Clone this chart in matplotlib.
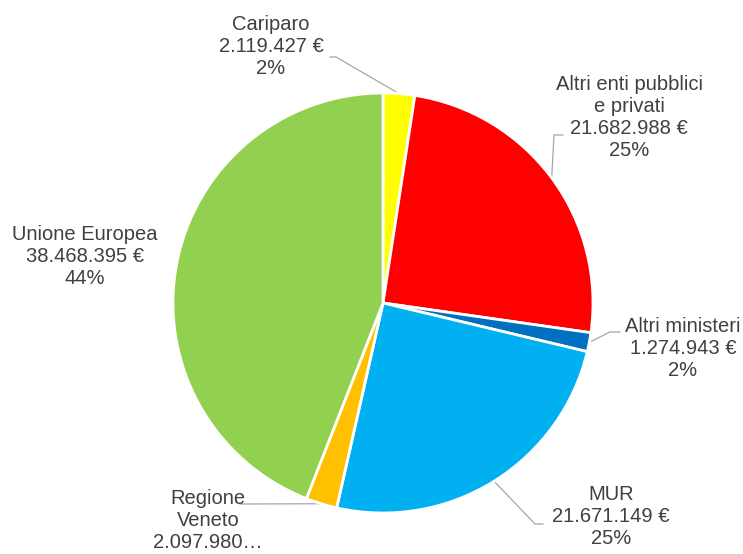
import numpy as np
import matplotlib.pyplot as plt

plt.rcParams['font.family'] = ['Liberation Sans', 'DejaVu Sans']

# slices, clockwise from 12 o'clock
names = ['Cariparo', 'Altri enti pubblici\ne privati', 'Altri ministeri',
         'MUR', 'Regione\nVeneto', 'Unione Europea']
amounts = [2119427, 21682988, 1274943, 21671149, 2097980, 38468395]
amount_labels = ['2.119.427 €', '21.682.988 €', '1.274.943 €',
                 '21.671.149 €', '2.097.980…', '38.468.395 €']
pct_labels = ['2%', '25%', '2%', '25%', '', '44%']
colors = ['#FFFF00', '#FF0000', '#0070C0', '#00B0F0', '#FFC000', '#92D050']

W, H = 743, 554
cx, cy, R = 383, H - 303, 210

# label block centres (pixels, y up) and leader line elbows/ends
label_pos = [(271, H - 47), (629, H - 118), (683, H - 349),
             (611, H - 516), (208, H - 521), (85, H - 256)]
leaders = [[(336, H - 57), (330, H - 57)],
           [(554, H - 135), (563, H - 135)],
           [(610, H - 332), (620, H - 332)],
           [(535, H - 524), (543, H - 524)],
           [(240, H - 504)],
           None]

fig = plt.figure(figsize=(W / 100, H / 100), dpi=100)
ax = fig.add_axes([0, 0, 1, 1])

wedges, _ = ax.pie(amounts, colors=colors, startangle=90, counterclock=False,
                   center=(cx, cy), radius=R,
                   wedgeprops=dict(edgecolor='white', linewidth=2))

for i, w in enumerate(wedges):
    lines = [names[i], amount_labels[i]]
    if pct_labels[i]:
        lines.append(pct_labels[i])
    ax.text(label_pos[i][0], label_pos[i][1], '\n'.join(lines),
            ha='center', va='center', multialignment='center',
            fontsize=14.5, color='#404040', linespacing=1.2)
    if leaders[i] is not None:
        mid = np.deg2rad((w.theta1 + w.theta2) / 2)
        start = (cx + R * np.cos(mid), cy + R * np.sin(mid))
        pts = [start] + leaders[i]
        xs, ys = zip(*pts)
        ax.plot(xs, ys, color='#A6A6A6', lw=0.9, zorder=0.5)

ax.set_xlim(0, W)
ax.set_ylim(0, H)
ax.set_aspect('equal')
ax.axis('off')

fig.savefig('out.png', dpi=100)
